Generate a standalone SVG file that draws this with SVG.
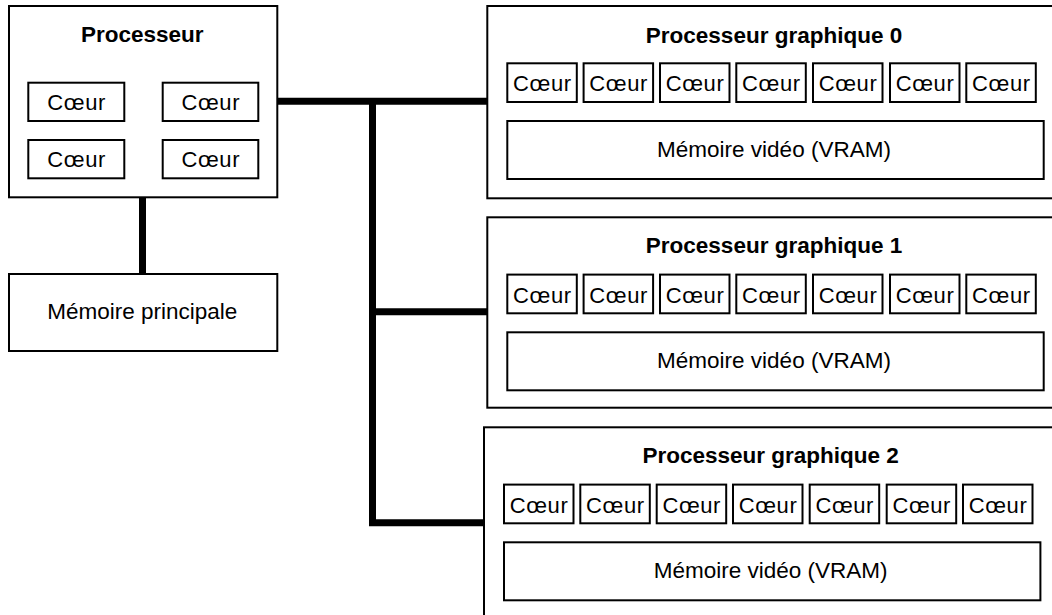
<svg xmlns="http://www.w3.org/2000/svg" width="1052" height="615" viewBox="0 0 1052 615">
  <style>
    .box { fill: #ffffff; stroke: #000000; stroke-width: 2; }
    .bus { fill: none; stroke: #000000; stroke-width: 7; stroke-linejoin: miter; stroke-linecap: butt; }
    .title { font-family: "Liberation Sans", Arial, sans-serif; font-weight: bold; font-size: 22.5px; text-anchor: middle; fill: #000000; }
    .label { font-family: "Liberation Sans", Arial, sans-serif; font-size: 22.5px; text-anchor: middle; fill: #000000; }
    .core { font-family: "Liberation Sans", Arial, sans-serif; font-size: 22px; text-anchor: middle; fill: #000000; }
  </style>
  <defs>
    <!-- one GPU core cell, origin at its top-left corner -->
    <g id="gpu-core">
      <rect class="box" x="0" y="0" width="69.5" height="38.7"/>
      <text class="core" x="34.75" y="28" textLength="58" lengthAdjust="spacing">Cœur</text>
    </g>
    <!-- row of seven cores plus the video memory block -->
    <g id="gpu-body">
      <use href="#gpu-core" x="20" y="57.3"/>
      <use href="#gpu-core" x="96.3" y="57.3"/>
      <use href="#gpu-core" x="172.7" y="57.3"/>
      <use href="#gpu-core" x="249" y="57.3"/>
      <use href="#gpu-core" x="325.7" y="57.3"/>
      <use href="#gpu-core" x="402.7" y="57.3"/>
      <use href="#gpu-core" x="479" y="57.3"/>
      <rect class="box" x="20" y="115" width="536.4" height="58"/>
      <text class="label" x="286.7" y="151">Mémoire vidéo (VRAM)</text>
    </g>
  </defs>

  <rect x="0" y="0" width="1052" height="615" fill="#ffffff"/>

  <!-- connectors -->
  <g id="connectors">
    <path class="bus" d="M142.5,197.3 V274"/>
    <path class="bus" d="M277.3,101.3 H487.3"/>
    <path class="bus" d="M372.5,101.3 V522.7 H484"/>
    <path class="bus" d="M372.5,311.7 H487.3"/>
  </g>

  <!-- CPU -->
  <g id="cpu">
    <rect class="box" x="9" y="6" width="268.3" height="191.3"/>
    <text class="title" x="142.3" y="42.3">Processeur</text>
    <rect class="box" x="28.3" y="82.7" width="96" height="38.3"/>
    <text class="core" x="76.3" y="109.5" textLength="58" lengthAdjust="spacing">Cœur</text>
    <rect class="box" x="162.7" y="82.7" width="95.6" height="38.3"/>
    <text class="core" x="210.5" y="109.5" textLength="58" lengthAdjust="spacing">Cœur</text>
    <rect class="box" x="28.3" y="140" width="96" height="38.3"/>
    <text class="core" x="76.3" y="166.8" textLength="58" lengthAdjust="spacing">Cœur</text>
    <rect class="box" x="162.7" y="140" width="95.6" height="38.3"/>
    <text class="core" x="210.5" y="166.8" textLength="58" lengthAdjust="spacing">Cœur</text>
  </g>

  <!-- main memory -->
  <g id="main-memory">
    <rect class="box" x="9" y="274" width="268.3" height="77"/>
    <text class="label" x="142.3" y="319">Mémoire principale</text>
  </g>

  <!-- GPUs (their right side runs past the canvas edge) -->
  <g id="gpu0" transform="translate(487.3,6)">
    <rect class="box" x="0" y="0" width="600" height="192.3"/>
    <text class="title" x="286.7" y="36.7">Processeur graphique 0</text>
    <use href="#gpu-body"/>
  </g>

  <g id="gpu1" transform="translate(487.3,217.3)">
    <rect class="box" x="0" y="0" width="600" height="190.4"/>
    <text class="title" x="286.7" y="36">Processeur graphique 1</text>
    <use href="#gpu-body"/>
  </g>

  <g id="gpu2" transform="translate(484,427.3)">
    <rect class="box" x="0" y="0" width="600" height="200"/>
    <text class="title" x="286.7" y="36">Processeur graphique 2</text>
    <use href="#gpu-body"/>
  </g>
</svg>
